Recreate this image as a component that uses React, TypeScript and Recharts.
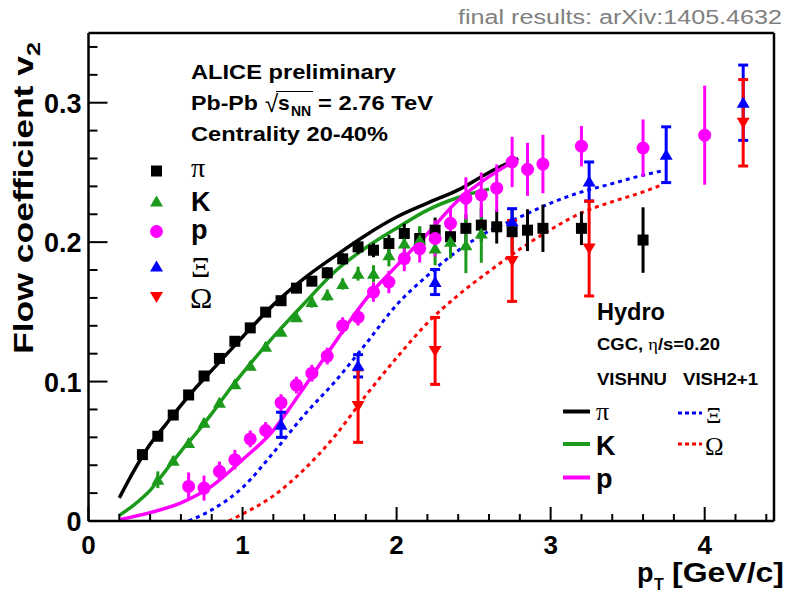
import React from 'react';
import { ComposedChart, Line, Scatter, XAxis, YAxis, ErrorBar, ReferenceLine } from 'recharts';

const W = 788;
const H = 596;
const SANS = '"Liberation Sans", Arial, Helvetica, sans-serif';
const SERIF = '"Liberation Serif", "Times New Roman", serif';

const BLACK = '#000000';
const GREEN = '#1c9a1c';
const MAGENTA = '#ff00ff';
const BLUE = '#0000ff';
const RED = '#ff0000';

const piPt = [0.35, 0.45, 0.55, 0.65, 0.75, 0.85, 0.95, 1.05, 1.15, 1.25, 1.35, 1.45, 1.55, 1.65, 1.75, 1.85, 1.95, 2.05, 2.15, 2.25, 2.35, 2.45, 2.55, 2.65, 2.75, 2.85, 2.95, 3.2, 3.6];
const piV2 = [0.0476, 0.0608, 0.076, 0.0904, 0.104, 0.1166, 0.1289, 0.1385, 0.1498, 0.158, 0.167, 0.172, 0.178, 0.188, 0.1966, 0.1942, 0.199, 0.2062, 0.2026, 0.2086, 0.2039, 0.2099, 0.2122, 0.211, 0.2075, 0.2086, 0.2099, 0.2099, 0.2015];
const piErr = [0.003, 0.003, 0.003, 0.003, 0.003, 0.003, 0.003, 0.003, 0.003, 0.003, 0.003, 0.003, 0.004, 0.004, 0.005, 0.005, 0.006, 0.007, 0.008, 0.009, 0.008, 0.01, 0.012, 0.012, 0.016, 0.015, 0.017, 0.012, 0.0235];

const kPt = [0.45, 0.55, 0.65, 0.75, 0.85, 0.95, 1.05, 1.15, 1.25, 1.35, 1.45, 1.55, 1.65, 1.75, 1.85, 1.95, 2.05, 2.15, 2.25, 2.35, 2.45, 2.55];
const kV2 = [0.0296, 0.0433, 0.056, 0.0704, 0.0849, 0.0981, 0.1113, 0.125, 0.1358, 0.1462, 0.157, 0.162, 0.17, 0.1774, 0.1774, 0.1906, 0.199, 0.2015, 0.1954, 0.2003, 0.1978, 0.2062];
const kErr = [0.006, 0.003, 0.003, 0.003, 0.003, 0.003, 0.003, 0.003, 0.003, 0.003, 0.004, 0.004, 0.004, 0.005, 0.006, 0.008, 0.008, 0.01, 0.012, 0.012, 0.02, 0.021];

const pPt = [0.65, 0.75, 0.85, 0.95, 1.05, 1.15, 1.25, 1.35, 1.45, 1.55, 1.65, 1.75, 1.85, 1.95, 2.05, 2.15, 2.25, 2.35, 2.45, 2.55, 2.65, 2.75, 2.85, 2.95, 3.2, 3.6, 4.0];
const pV2 = [0.0248, 0.0236, 0.0356, 0.044, 0.0589, 0.0649, 0.0849, 0.0975, 0.106, 0.1183, 0.1401, 0.1462, 0.1642, 0.1714, 0.1882, 0.1954, 0.2026, 0.2135, 0.2315, 0.2339, 0.2387, 0.2575, 0.2522, 0.256, 0.2688, 0.2675, 0.2767];
const pErr = [0.01, 0.009, 0.007, 0.007, 0.006, 0.006, 0.006, 0.006, 0.006, 0.006, 0.006, 0.006, 0.007, 0.008, 0.009, 0.01, 0.013, 0.012, 0.015, 0.016, 0.017, 0.018, 0.019, 0.021, 0.0145, 0.0205, 0.0355];

const xiPt = [1.25, 1.75, 2.25, 2.75, 3.25, 3.75, 4.25];
const xiV2 = [0.069, 0.1113, 0.1714, 0.215, 0.2435, 0.2627, 0.3];
const xiErr = [0.009, 0.008, 0.009, 0.009, 0.014, 0.02, 0.027];

const omPt = [1.75, 2.25, 2.75, 3.25, 4.25];
const omV2 = [0.0824, 0.122, 0.1865, 0.1954, 0.2856];
const omErr = [0.026, 0.024, 0.029, 0.034, 0.031];

// hydro calculations (VISHNU / VISH2+1)
const piHydroPt = [0.2, 0.3, 0.4, 0.5, 0.6, 0.7, 0.8, 0.9, 1.0, 1.2, 1.4, 1.6, 1.8, 2.0, 2.2, 2.4, 2.6, 2.79];
const piHydroV2 = [0.0166, 0.037, 0.055, 0.069, 0.083, 0.096, 0.108, 0.12, 0.132, 0.155, 0.174, 0.19, 0.205, 0.218, 0.228, 0.2375, 0.25, 0.26];
const kHydroPt = [0.2, 0.3, 0.4, 0.5, 0.6, 0.7, 0.8, 0.9, 1.0, 1.2, 1.4, 1.6, 1.8, 2.0, 2.2, 2.4, 2.6];
const kHydroV2 = [0.004, 0.012, 0.022, 0.036, 0.05, 0.063, 0.077, 0.092, 0.106, 0.132, 0.156, 0.179, 0.196, 0.21, 0.223, 0.232, 0.238];
const pHydroPt = [0.2, 0.4, 0.6, 0.8, 1.0, 1.2, 1.3, 1.4, 1.5, 1.6, 1.7, 1.8, 2.0, 2.2, 2.4, 2.6, 2.76];
const pHydroV2 = [0.001, 0.006, 0.013, 0.025, 0.044, 0.065, 0.08, 0.096, 0.112, 0.128, 0.144, 0.159, 0.183, 0.206, 0.23, 0.247, 0.258];
const xiHydroPt = [0.65, 0.8, 1.0, 1.2, 1.4, 1.6, 1.8, 2.0, 2.2, 2.4, 2.6, 2.8, 3.0, 3.2, 3.4, 3.6, 3.72];
const xiHydroV2 = [0, 0.008, 0.024, 0.049, 0.076, 0.1, 0.127, 0.155, 0.176, 0.194, 0.208, 0.218, 0.228, 0.236, 0.242, 0.248, 0.251];
const omHydroPt = [0.91, 1.0, 1.2, 1.4, 1.6, 1.8, 2.0, 2.2, 2.4, 2.6, 2.8, 3.0, 3.2, 3.4, 3.6, 3.72];
const omHydroV2 = [0, 0.005, 0.018, 0.037, 0.061, 0.09, 0.117, 0.142, 0.162, 0.179, 0.195, 0.209, 0.221, 0.229, 0.236, 0.241];

const xTicks = [0, 0.2, 0.4, 0.6, 0.8, 1, 1.2, 1.4, 1.6, 1.8, 2, 2.2, 2.4, 2.6, 2.8, 3, 3.2, 3.4, 3.6, 3.8, 4, 4.2, 4.4];
const yTicks = [0, 0.02, 0.04, 0.06, 0.08, 0.1, 0.12, 0.14, 0.16, 0.18, 0.2, 0.22, 0.24, 0.26, 0.28, 0.3, 0.32, 0.34];
const X_MAX = 4.45;
const Y_MAX = 0.35;

const zip = (xs: number[], ys: number[], es?: number[]) =>
  xs.map((x, i) => ({ x, y: ys[i], e: es ? es[i] : 0 }));

const square = (c: string) => (p: any) => (
  <rect x={p.cx - 5.5} y={p.cy - 5.5} width={11} height={11} fill={c} />
);
const triUp = (c: string) => (p: any) => (
  <polygon points={`${p.cx},${p.cy - 6} ${p.cx + 6.5},${p.cy + 5} ${p.cx - 6.5},${p.cy + 5}`} fill={c} />
);
const triDown = (c: string) => (p: any) => (
  <polygon points={`${p.cx},${p.cy + 6} ${p.cx + 6.5},${p.cy - 5} ${p.cx - 6.5},${p.cy - 5}`} fill={c} />
);
const dot = (c: string) => (p: any) => <circle cx={p.cx} cy={p.cy} r={6.5} fill={c} />;

function XTick({ x, y, payload }: any) {
  const v = payload.value;
  const major = Math.abs(v - Math.round(v)) < 1e-6;
  return (
    <g>
      <line x1={x} x2={x} y1={y} y2={y - (major ? 14 : 7)} stroke="#000" strokeWidth={2} />
      {major && (
        <text x={x} y={y + 33} textAnchor="middle" fontFamily={SANS} fontWeight="bold" fontSize={26} fill="#000">
          {Math.round(v)}
        </text>
      )}
    </g>
  );
}

function YTick({ x, y, payload }: any) {
  const v = payload.value;
  const major = Math.abs(v * 10 - Math.round(v * 10)) < 1e-6;
  return (
    <g>
      <line x1={x} x2={x + (major ? 19 : 9)} y1={y} y2={y} stroke="#000" strokeWidth={2} />
      {major && (
        <text x={x - 7} y={y + 10} textAnchor="end" fontFamily={SANS} fontWeight="bold" fontSize={27} fill="#000">
          {v === 0 ? '0' : v.toFixed(1)}
        </text>
      )}
    </g>
  );
}

const frame = { stroke: '#000', strokeWidth: 2.5 };

function Overlay() {
  const b = { fontFamily: SANS, fontWeight: 'bold' as const, fill: '#000' };
  return (
    <svg width={W} height={H} style={{ position: 'absolute', left: 0, top: 0, pointerEvents: 'none' }}>
      <text x={458} y={24} fontFamily={SANS} fontSize={20} fill="#808080" textLength={324} lengthAdjust="spacingAndGlyphs">
        final results: arXiv:1405.4632
      </text>

      {/* axis titles */}
      <text transform="translate(33,198) rotate(-90)" textAnchor="middle" fontSize={27} {...b} textLength={312} lengthAdjust="spacingAndGlyphs">
        Flow coefficient v<tspan fontSize={19} dy={7}>2</tspan>
      </text>
      <text x={637} y={582} fontSize={27} {...b}>p</text>
      <text x={654} y={590} fontSize={16} {...b}>T</text>
      <text x={672} y={582} fontSize={27} {...b} textLength={112} lengthAdjust="spacingAndGlyphs">[GeV/c]</text>

      {/* header */}
      <text x={191} y={79} fontSize={21} {...b} textLength={205} lengthAdjust="spacingAndGlyphs">ALICE preliminary</text>
      <text x={191} y={110} fontSize={21} {...b} textLength={67} lengthAdjust="spacingAndGlyphs">Pb-Pb</text>
      <text x={265} y={112} fontSize={24} fontFamily={SANS} fill="#000">√</text>
      <line x1={276} x2={313} y1={91.5} y2={91.5} stroke="#000" strokeWidth={1.2} />
      <text x={278} y={110} fontSize={21} {...b}>s</text>
      <text x={291} y={116} fontSize={14} {...b}>NN</text>
      <text x={318} y={110} fontSize={21} {...b} textLength={115} lengthAdjust="spacingAndGlyphs">= 2.76 TeV</text>
      <text x={191} y={141} fontSize={21} {...b} textLength={197} lengthAdjust="spacingAndGlyphs">Centrality 20-40%</text>

      {/* data legend */}
      {square(BLACK)({ cx: 156.5, cy: 171 })}
      {triUp(GREEN)({ cx: 156.5, cy: 201.5 })}
      {dot(MAGENTA)({ cx: 156.5, cy: 231.5 })}
      {triUp(BLUE)({ cx: 156.5, cy: 266.5 })}
      {triDown(RED)({ cx: 156.5, cy: 297 })}
      <text x={191} y={177} fontFamily={SERIF} fontSize={28} fill="#000">π</text>
      <text x={191} y={211} fontSize={27} {...b}>K</text>
      <text x={191} y={239} fontSize={27} {...b}>p</text>
      <text x={191} y={277} fontFamily={SERIF} fontSize={30} fill="#000">Ξ</text>
      <text x={190} y={308} fontFamily={SERIF} fontSize={30} fill="#000">Ω</text>

      {/* hydro legend */}
      <text x={597} y={320} fontSize={23} {...b} textLength={68} lengthAdjust="spacingAndGlyphs">Hydro</text>
      <text x={597} y={350} fontSize={16} {...b} textLength={123} lengthAdjust="spacingAndGlyphs">
        CGC, <tspan fontFamily={SERIF} fontWeight="normal">η</tspan>/s=0.20
      </text>
      <text x={597} y={385} fontSize={16} {...b} textLength={70} lengthAdjust="spacingAndGlyphs">VISHNU</text>
      <text x={683} y={385} fontSize={16} {...b} textLength={75} lengthAdjust="spacingAndGlyphs">VISH2+1</text>
      <line x1={563} x2={590} y1={411.5} y2={411.5} stroke={BLACK} strokeWidth={4} />
      <line x1={563} x2={590} y1={444} y2={444} stroke={GREEN} strokeWidth={4} />
      <line x1={563} x2={590} y1={477.5} y2={477.5} stroke={MAGENTA} strokeWidth={4} />
      <line x1={678} x2={702} y1={413} y2={413} stroke={BLUE} strokeWidth={3} strokeDasharray="4 3" />
      <line x1={678} x2={702} y1={444} y2={444} stroke={RED} strokeWidth={3} strokeDasharray="4 3" />
      <text x={596} y={420} fontFamily={SERIF} fontSize={26} fill="#000">π</text>
      <text x={596} y={455} fontSize={27} {...b}>K</text>
      <text x={596} y={488} fontSize={27} {...b}>p</text>
      <text x={706} y={423} fontFamily={SERIF} fontSize={24} fill="#000">Ξ</text>
      <text x={705} y={455} fontFamily={SERIF} fontSize={25} fill="#000">Ω</text>
    </svg>
  );
}

export default function App() {
  return (
    <div style={{ position: 'absolute', left: 0, top: 0, width: W, height: H, background: '#fff' }}>
      <ComposedChart width={W} height={H} margin={{ top: 33, right: 14, bottom: 0, left: 30 }}>
        <XAxis
          type="number"
          dataKey="x"
          domain={[0, X_MAX]}
          allowDataOverflow
          ticks={xTicks}
          interval={0}
          height={75}
          tickSize={0}
          tickMargin={0}
          tickLine={false}
          axisLine={frame}
          tick={<XTick />}
        />
        <YAxis
          type="number"
          dataKey="y"
          domain={[0, Y_MAX]}
          allowDataOverflow
          ticks={yTicks}
          interval={0}
          width={58.5}
          tickSize={0}
          tickMargin={0}
          tickLine={false}
          axisLine={frame}
          tick={<YTick />}
        />
        {/* closing frame on top and right */}
        <ReferenceLine y={Y_MAX} stroke="#000" strokeWidth={2.5} />
        <ReferenceLine x={X_MAX} stroke="#000" strokeWidth={2.5} />

        <Line data={zip(xiHydroPt, xiHydroV2)} dataKey="y" type="monotone" stroke={BLUE} strokeWidth={3} strokeDasharray="4 4" dot={false} isAnimationActive={false} />
        <Line data={zip(omHydroPt, omHydroV2)} dataKey="y" type="monotone" stroke={RED} strokeWidth={3} strokeDasharray="4 4" dot={false} isAnimationActive={false} />
        <Line data={zip(piHydroPt, piHydroV2)} dataKey="y" type="monotone" stroke={BLACK} strokeWidth={3.5} dot={false} isAnimationActive={false} />
        <Line data={zip(kHydroPt, kHydroV2)} dataKey="y" type="monotone" stroke={GREEN} strokeWidth={3.5} dot={false} isAnimationActive={false} />
        <Line data={zip(pHydroPt, pHydroV2)} dataKey="y" type="monotone" stroke={MAGENTA} strokeWidth={3.5} dot={false} isAnimationActive={false} />

        <Scatter data={zip(piPt, piV2, piErr)} shape={square(BLACK)} isAnimationActive={false}>
          <ErrorBar dataKey="e" direction="y" width={0} stroke={BLACK} strokeWidth={3} isAnimationActive={false} />
        </Scatter>
        <Scatter data={zip(kPt, kV2, kErr)} shape={triUp(GREEN)} isAnimationActive={false}>
          <ErrorBar dataKey="e" direction="y" width={0} stroke={GREEN} strokeWidth={3} isAnimationActive={false} />
        </Scatter>
        <Scatter data={zip(pPt, pV2, pErr)} shape={dot(MAGENTA)} isAnimationActive={false}>
          <ErrorBar dataKey="e" direction="y" width={0} stroke={MAGENTA} strokeWidth={3} isAnimationActive={false} />
        </Scatter>
        <Scatter data={zip(xiPt, xiV2, xiErr)} shape={triUp(BLUE)} isAnimationActive={false}>
          <ErrorBar dataKey="e" direction="y" width={5} stroke={BLUE} strokeWidth={3} isAnimationActive={false} />
        </Scatter>
        <Scatter data={zip(omPt, omV2, omErr)} shape={triDown(RED)} isAnimationActive={false}>
          <ErrorBar dataKey="e" direction="y" width={5} stroke={RED} strokeWidth={3} isAnimationActive={false} />
        </Scatter>
      </ComposedChart>
      <Overlay />
    </div>
  );
}
